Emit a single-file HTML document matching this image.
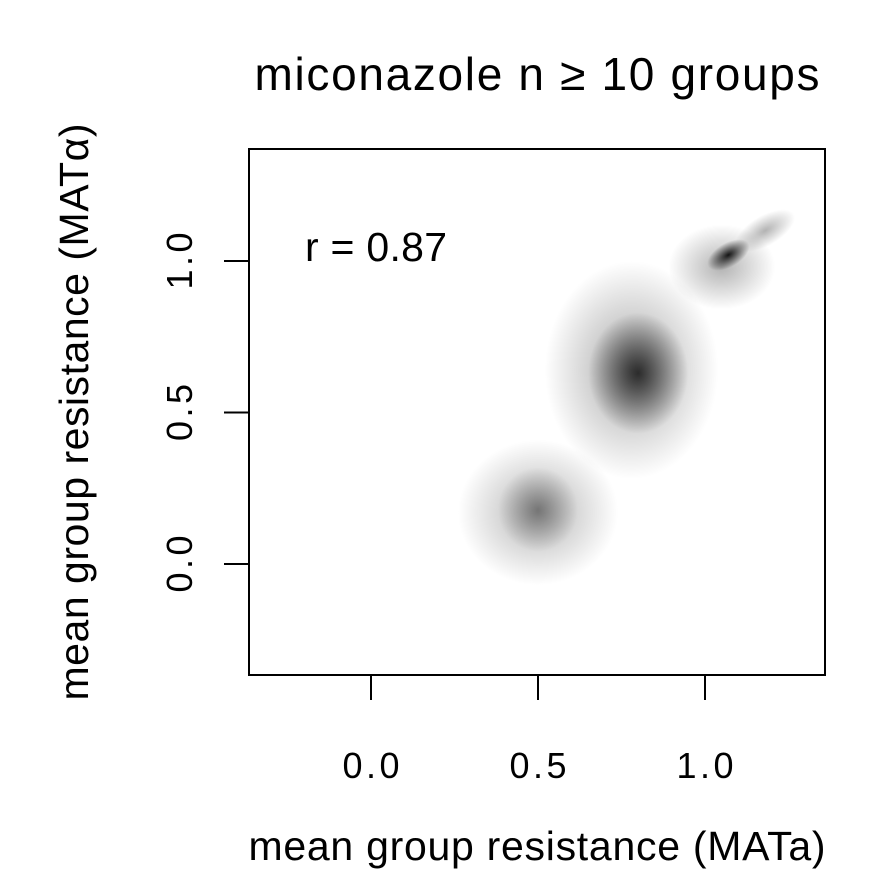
<!DOCTYPE html>
<html><head><meta charset="utf-8"><style>
body{margin:0;background:#fff}
svg text{font-family:"Liberation Sans",Arial,sans-serif;fill:#000}
</style></head><body>
<svg id="c" width="875" height="875">
<defs>
<radialGradient id="g"><stop offset="0" stop-color="#000" stop-opacity="1"/><stop offset="0.4" stop-color="#000" stop-opacity="0.6"/><stop offset="1" stop-color="#000" stop-opacity="0"/></radialGradient>
</defs>
<text x="537" y="90" font-size="46" text-anchor="middle" textLength="565">miconazole n ≥ 10 groups</text>
<g id="marks"></g>
<rect x="249" y="149" width="576" height="526" fill="none" stroke="#000" stroke-width="2"/>
<text x="305" y="261" font-size="41" textLength="142">r = 0.87</text>
<g id="axes"></g>
<text x="537" y="860" font-size="41" text-anchor="middle" textLength="577">mean group resistance (MATa)</text>
<text transform="translate(88,412) rotate(-90)" font-size="41" text-anchor="middle" textLength="577">mean group resistance (MATα)</text>
</svg>
<script>
const xTicks=[0,0.5,1.0];
const yTicks=[0,0.5,1.0];
const tickLabels=["0.0","0.5","1.0"];
const clusterX=[0.78,0.80,1.05,1.07,1.18,0.50,0.50];
const clusterY=[0.64,0.63,0.98,1.02,1.10,0.17,0.18];
const clusterSX=[0.26,0.15,0.16,0.07,0.10,0.24,0.12];
const clusterSY=[0.36,0.20,0.14,0.04,0.05,0.24,0.14];
const clusterOp=[0.35,0.75,0.3,0.9,0.3,0.3,0.35];
const X=v=>371+v*334, Y=v=>564-v*303;
const NS="http://www.w3.org/2000/svg";
const m=document.getElementById('marks');
clusterX.forEach((cx,i)=>{
 const e=document.createElementNS(NS,'ellipse');
 e.setAttribute('cx',X(cx));e.setAttribute('cy',Y(clusterY[i]));
 e.setAttribute('rx',clusterSX[i]*334);e.setAttribute('ry',clusterSY[i]*303);
 e.setAttribute('fill','url(#g)');e.setAttribute('opacity',clusterOp[i]);
 if(i===3||i===4) e.setAttribute('transform',`rotate(-30 ${X(cx)} ${Y(clusterY[i])})`);
 
 
 m.appendChild(e);
});
const a=document.getElementById('axes');
xTicks.forEach((t,i)=>{
 const l=document.createElementNS(NS,'line');
 l.setAttribute('x1',X(t));l.setAttribute('x2',X(t));l.setAttribute('y1',675);l.setAttribute('y2',700);
 l.setAttribute('stroke','#000');l.setAttribute('stroke-width',2);
 
 
 a.appendChild(l);
 const tx=document.createElementNS(NS,'text');
 tx.setAttribute('x',X(t));tx.setAttribute('y',778);tx.setAttribute('font-size',36);tx.setAttribute('text-anchor','middle');
 tx.setAttribute('textLength',57);
 tx.textContent=tickLabels[i];
 
 
 a.appendChild(tx);
});
yTicks.forEach((t,i)=>{
 const l=document.createElementNS(NS,'line');
 l.setAttribute('y1',Y(t));l.setAttribute('y2',Y(t));l.setAttribute('x1',224);l.setAttribute('x2',249);
 l.setAttribute('stroke','#000');l.setAttribute('stroke-width',2);
 
 
 a.appendChild(l);
 const tx=document.createElementNS(NS,'text');
 tx.setAttribute('transform',`translate(192,${Y(t)}) rotate(-90)`);tx.setAttribute('font-size',36);tx.setAttribute('text-anchor','middle');
 tx.setAttribute('textLength',57);
 tx.textContent=tickLabels[i];
 
 
 a.appendChild(tx);
});
</script>
</body></html>
